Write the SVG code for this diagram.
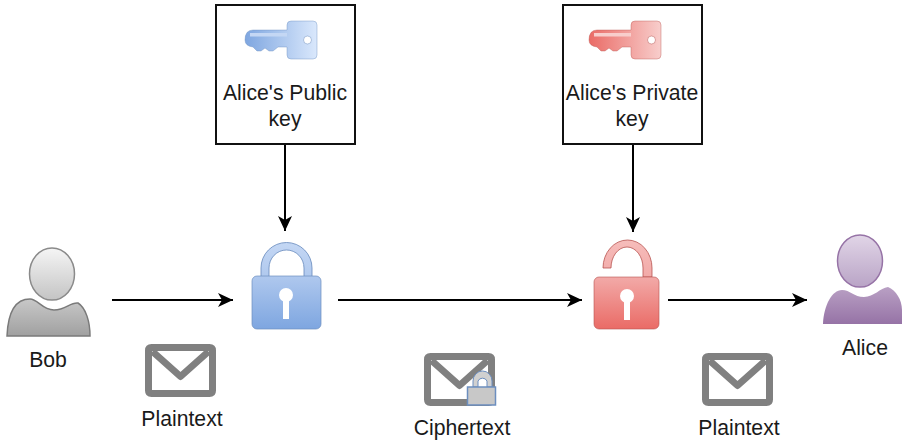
<svg xmlns="http://www.w3.org/2000/svg" width="902" height="444" viewBox="0 0 902 444">
<style>
.t{font-family:"Liberation Sans",Arial,sans-serif;font-size:21.2px;fill:#1a1a1a;text-anchor:middle}
.box{fill:#fff;stroke:#111;stroke-width:2}
.conn{fill:none;stroke:#000;stroke-width:2;marker-end:url(#arr)}
.env{fill:none;stroke:#808080;stroke-width:7;stroke-linejoin:round}
.kh{fill:#fff}
</style>
<defs>
<marker id="arr" markerUnits="userSpaceOnUse" markerWidth="16" markerHeight="16" refX="15" refY="7" orient="auto"><path d="M0 0L15 7L0 14L4 7Z" fill="#000"/></marker>
<linearGradient id="bl" x1="0" y1="0" x2="0" y2="1"><stop offset="0" stop-color="#afc8ee"/><stop offset="1" stop-color="#7ea6e0"/></linearGradient>
<linearGradient id="bs" x1="0" y1="0" x2="0" y2="1"><stop offset="0" stop-color="#c4d7f4"/><stop offset="1" stop-color="#b0c9ee"/></linearGradient>
<linearGradient id="re" x1="0" y1="0" x2="0" y2="1"><stop offset="0" stop-color="#f2aaa8"/><stop offset="1" stop-color="#ea6b66"/></linearGradient>
<linearGradient id="rs" x1="0" y1="0" x2="0" y2="1"><stop offset="0" stop-color="#f6bdbb"/><stop offset="1" stop-color="#f2aaa8"/></linearGradient>
<linearGradient id="bk" x1="1" y1="0" x2="0" y2="0"><stop offset="0" stop-color="#dae8fc"/><stop offset="1" stop-color="#7ea6e0"/></linearGradient>
<linearGradient id="rk" x1="1" y1="0" x2="0" y2="0"><stop offset="0" stop-color="#f8cecc"/><stop offset="1" stop-color="#ea6b66"/></linearGradient>
<linearGradient id="gh" x1="0" y1="0" x2="0" y2="1"><stop offset="0" stop-color="#f5f5f5"/><stop offset="1" stop-color="#c4c4c4"/></linearGradient>
<linearGradient id="gb" x1="0" y1="0" x2="0" y2="1"><stop offset="0" stop-color="#c8c8c8"/><stop offset="1" stop-color="#a0a0a0"/></linearGradient>
<linearGradient id="ph" x1="0" y1="0" x2="0" y2="1"><stop offset="0" stop-color="#e1d5e7"/><stop offset="1" stop-color="#b9a4c6"/></linearGradient>
<linearGradient id="pb" x1="0" y1="0" x2="0" y2="1"><stop offset="0" stop-color="#b9a0c4"/><stop offset="1" stop-color="#9673a6"/></linearGradient>
<path id="key" d="M0 19Q0 9 8 9H42V4Q42 0 46 0H68Q72 0 72 4V34Q72 38 68 38H46Q42 38 42 34V26H33L28 30H24L20 27L16 30H12L8 26Q0 25 0 19Z"/>
<path id="env" d="M3 0H61Q64 0 64 3V43Q64 46 61 46H3Q0 46 0 43V3Q0 0 3 0ZM4 4L32 29L60 4"/>
</defs>

<g id="connectors">
<path class="conn" d="M285 144V231"/>
<path class="conn" d="M633 144V232"/>
<path class="conn" d="M112 300H233"/>
<path class="conn" d="M338 300H582"/>
<path class="conn" d="M668 300H807"/>
</g>

<g id="public-key">
<rect class="box" x="216" y="5" width="139" height="139"/>
<use href="#key" x="245" y="21" fill="url(#bk)" stroke="#6c8ebf" stroke-opacity=".4"/>
<rect x="250" y="33" width="37" height="3.500" fill="#c4d7f4"/>
<circle cx="307.500" cy="40" r="4" fill="#fff" stroke="#6c8ebf" stroke-opacity=".5"/>
<text class="t" x="285" y="100">Alice's Public</text>
<text class="t" x="285" y="126">key</text>
</g>

<g id="private-key">
<rect class="box" x="563" y="5" width="139" height="139"/>
<use href="#key" x="589" y="21" fill="url(#rk)" stroke="#b85450" stroke-opacity=".4"/>
<rect x="594" y="33" width="37" height="3.500" fill="#f8cecc"/>
<circle cx="651.500" cy="40" r="4" fill="#fff" stroke="#b85450" stroke-opacity=".5"/>
<text class="t" x="632" y="100">Alice's Private</text>
<text class="t" x="632" y="126">key</text>
</g>

<g id="bob">
<path d="M7 336C8 312 16 299 30 299C38 299 42 310 54 310C66 310 70 302 78 303C86 308 90 322 90 336Z" fill="url(#gb)" stroke="#7a7a7a" stroke-width="1.500"/>
<ellipse cx="52" cy="274" rx="22.500" ry="26" fill="url(#gh)" stroke="#8a8a8a" stroke-width="1.500"/>
<text class="t" x="48" y="367">Bob</text>
</g>

<g id="lock-closed">
<path d="M261 277V268A25.500 25.500 0 0 1 312 268V277H304V268A17.500 18 0 0 0 269 268V277Z" fill="url(#bs)" stroke="#6c8ebf" stroke-opacity=".85"/>
<rect x="252" y="276" width="69" height="53" rx="5" fill="url(#bl)" stroke="#6c8ebf" stroke-opacity=".7"/>
<circle class="kh" cx="286" cy="295" r="7"/>
<rect class="kh" x="283" y="297" width="6" height="22"/>
</g>

<g id="lock-open">
<path d="M603 268A24.500 28 0 0 1 652 268V277H643V268A16 21 0 0 0 611 268Z" fill="url(#rs)" stroke="#b85450" stroke-opacity=".8"/>
<rect x="594" y="277" width="65" height="52" rx="5" fill="url(#re)" stroke="#b85450" stroke-opacity=".6"/>
<circle class="kh" cx="627" cy="296" r="7"/>
<rect class="kh" x="624" y="298" width="6" height="22"/>
</g>

<g id="alice">
<path d="M823 324C824 305 832 290 842 290C850 290 854 297 864 297C874 297 880 288 888 287C896 290 902 300 902 310V324Z" fill="url(#pb)"/>
<ellipse cx="860" cy="261" rx="22.500" ry="26" fill="url(#ph)" stroke="#9673a6" stroke-width="1.500"/>
<text class="t" x="865" y="355">Alice</text>
</g>

<g id="plaintext-1">
<use href="#env" x="148.500" y="347.500" class="env"/>
<text class="t" x="182" y="426">Plaintext</text>
</g>

<g id="ciphertext">
<use href="#env" x="427.500" y="356.500" class="env"/>
<path d="M473 387V381A9.500 10 0 0 1 492 381V387H487V381A5 5 0 0 0 478 381V387Z" fill="#d0d0d0" stroke="#6c8ebf"/>
<rect x="467.500" y="387" width="28" height="18" fill="#c8c8c8" stroke="#6c8ebf" stroke-width="1.500"/>
<text class="t" x="462" y="435">Ciphertext</text>
</g>

<g id="plaintext-2">
<use href="#env" x="705.500" y="356.500" class="env"/>
<text class="t" x="739" y="435">Plaintext</text>
</g>
</svg>
